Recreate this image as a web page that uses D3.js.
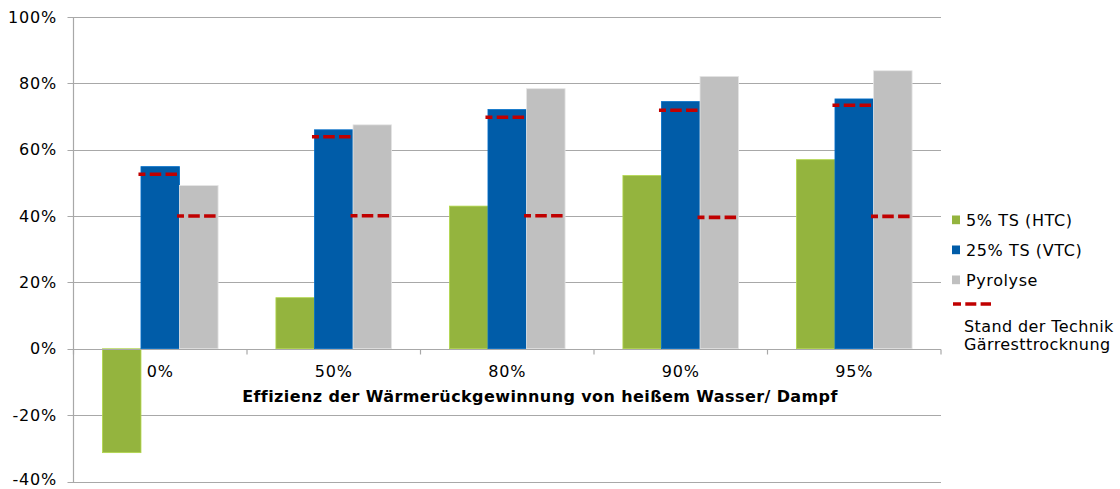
<!DOCTYPE html>
<html>
<head>
<meta charset="utf-8">
<script src="https://cdn.jsdelivr.net/npm/d3@7"></script>
<style>
  html, body { margin: 0; padding: 0; background: #fff; }
  svg { display: block; font-family: "DejaVu Sans", Verdana, sans-serif; }
</style>
</head>
<body>
<svg id="chart" width="1120" height="489"></svg>
<script>
// Effizienz-Kategorien (x-Achse)
const categories = ["0%", "50%", "80%", "90%", "95%"];
// Reihen in Prozent
const htc = [-31.3, 15.4, 43.0, 52.2, 57.0];
const vtc = [54.9, 66.0, 72.1, 74.5, 75.3];
const pyrolyse = [49.2, 67.5, 78.4, 82.1, 83.8];
// Stand der Technik Gärresttrocknung, je Balken (VTC / Pyrolyse)
const standVtc = [52.6, 63.9, 69.8, 71.9, 73.4];
const standPyrolyse = [40.0, 40.1, 40.1, 39.6, 39.9];
// Achsenbeschriftung
const yTicks = [-40, -20, 0, 20, 40, 60, 80, 100];
const seriesNames = ["5% TS (HTC)", "25% TS (VTC)", "Pyrolyse"];
const standLabel = ["Stand der Technik", "Gärresttrocknung"];
const xTitle = "Effizienz der Wärmerückgewinnung von heißem Wasser/ Dampf";

const colors = ["#94b43e", "#005ca8", "#c0c0c0"];
const red = "#c00000";
const gridColor = "#a8a8a8";

const svg = d3.select("#chart");
const plotLeft = 73.5, plotRight = 941, plotTop = 17, plotBottom = 481.5;

const x = d3.scaleBand().domain(categories).range([plotLeft, plotRight]).padding(0);
const xs = d3.scaleBand().domain(d3.range(3)).range([0, x.bandwidth()])
  .paddingInner(0).paddingOuter(0.75);
const y = d3.scaleLinear().domain([-40, 100]).range([plotBottom, plotTop]);

// Gitternetz
svg.append("g").selectAll("line").data(yTicks).join("line")
  .attr("x1", plotLeft - 6).attr("x2", plotRight)
  .attr("y1", d => Math.round(y(d)) + 0.5).attr("y2", d => Math.round(y(d)) + 0.5)
  .attr("stroke", gridColor).attr("stroke-width", 1.2);

// y-Achse
svg.append("line")
  .attr("x1", plotLeft).attr("x2", plotLeft).attr("y1", plotTop).attr("y2", plotBottom + 1)
  .attr("stroke", gridColor).attr("stroke-width", 1.2);

// y-Beschriftung (unterste Marke bleibt innerhalb der Zeichenfläche)
svg.append("g").selectAll("text").data(yTicks).join("text")
  .attr("x", 57).attr("y", d => Math.min(y(d) + 5.5, 485))
  .attr("text-anchor", "end")
  .attr("font-size", 16).attr("letter-spacing", 0.8)
  .attr("fill", "#000")
  .text(d => d + "%");

// Balken
const seriesData = [htc, vtc, pyrolyse];
const groups = svg.append("g");
seriesData.forEach((vals, s) => {
  groups.append("g").selectAll("rect").data(vals).join("rect")
    .attr("x", (d, i) => x(categories[i]) + xs(s))
    .attr("width", xs.bandwidth())
    .attr("y", d => y(Math.max(0, d)))
    .attr("height", d => Math.abs(y(d) - y(0)))
    .attr("fill", colors[s])
    .attr("stroke", d3.color(colors[s]).brighter(0.5))
    .attr("stroke-width", 0.8);
});

// Nulllinie mit Teilstrichen zwischen den Kategorien
const zeroY = Math.round(y(0)) + 0.5;
svg.append("line")
  .attr("x1", plotLeft).attr("x2", plotRight).attr("y1", zeroY).attr("y2", zeroY)
  .attr("stroke", gridColor).attr("stroke-width", 1.2);
const bounds = categories.map(c => x(c)).concat([plotRight]);
svg.append("g").selectAll("line").data(bounds).join("line")
  .attr("x1", d => d).attr("x2", d => d)
  .attr("y1", zeroY).attr("y2", zeroY + 5)
  .attr("stroke", gridColor).attr("stroke-width", 1.2);

// Stand der Technik: gestrichelte Linien über VTC- und Pyrolyse-Balken
function drawStand(vals, s) {
  svg.append("g").selectAll("line").data(vals).join("line")
    .attr("x1", (d, i) => x(categories[i]) + xs(s) + xs.bandwidth() - 2.5)
    .attr("x2", (d, i) => x(categories[i]) + xs(s) - 2.5)
    .attr("y1", d => y(d)).attr("y2", d => y(d))
    .attr("stroke", red).attr("stroke-width", 3.6)
    .attr("stroke-dasharray", "11.5,4.3");
}
drawStand(standVtc, 1);
drawStand(standPyrolyse, 2);

// Kategorienbeschriftung
svg.append("g").selectAll("text").data(categories).join("text")
  .attr("x", d => x(d) + x.bandwidth() / 2)
  .attr("y", 377)
  .attr("text-anchor", "middle")
  .attr("font-size", 16).attr("letter-spacing", 0.8)
  .text(d => d);

// Achsentitel
svg.append("text")
  .attr("x", 540).attr("y", 402)
  .attr("text-anchor", "middle")
  .attr("font-size", 16).attr("font-weight", "bold")
  .attr("letter-spacing", 0.4)
  .text(xTitle);

// Legende
const legend = svg.append("g");
const legendY = [220, 250, 280];
seriesNames.forEach((name, i) => {
  legend.append("rect")
    .attr("x", 952).attr("y", legendY[i] - 4.5)
    .attr("width", 8).attr("height", 8.7)
    .attr("fill", colors[i]);
  legend.append("text")
    .attr("x", 966).attr("y", legendY[i] + 6)
    .attr("font-size", 16).attr("letter-spacing", 0.6)
    .text(name);
});
legend.append("line")
  .attr("x1", 953).attr("x2", 991).attr("y1", 304).attr("y2", 304)
  .attr("stroke", red).attr("stroke-width", 3.6)
  .attr("stroke-dasharray", "8,4.3,11,4.3,11");
standLabel.forEach((t, i) => {
  legend.append("text")
    .attr("x", 964).attr("y", 332 + i * 17.5)
    .attr("font-size", 16).attr("letter-spacing", 0.4)
    .text(t);
});
</script>
</body>
</html>
